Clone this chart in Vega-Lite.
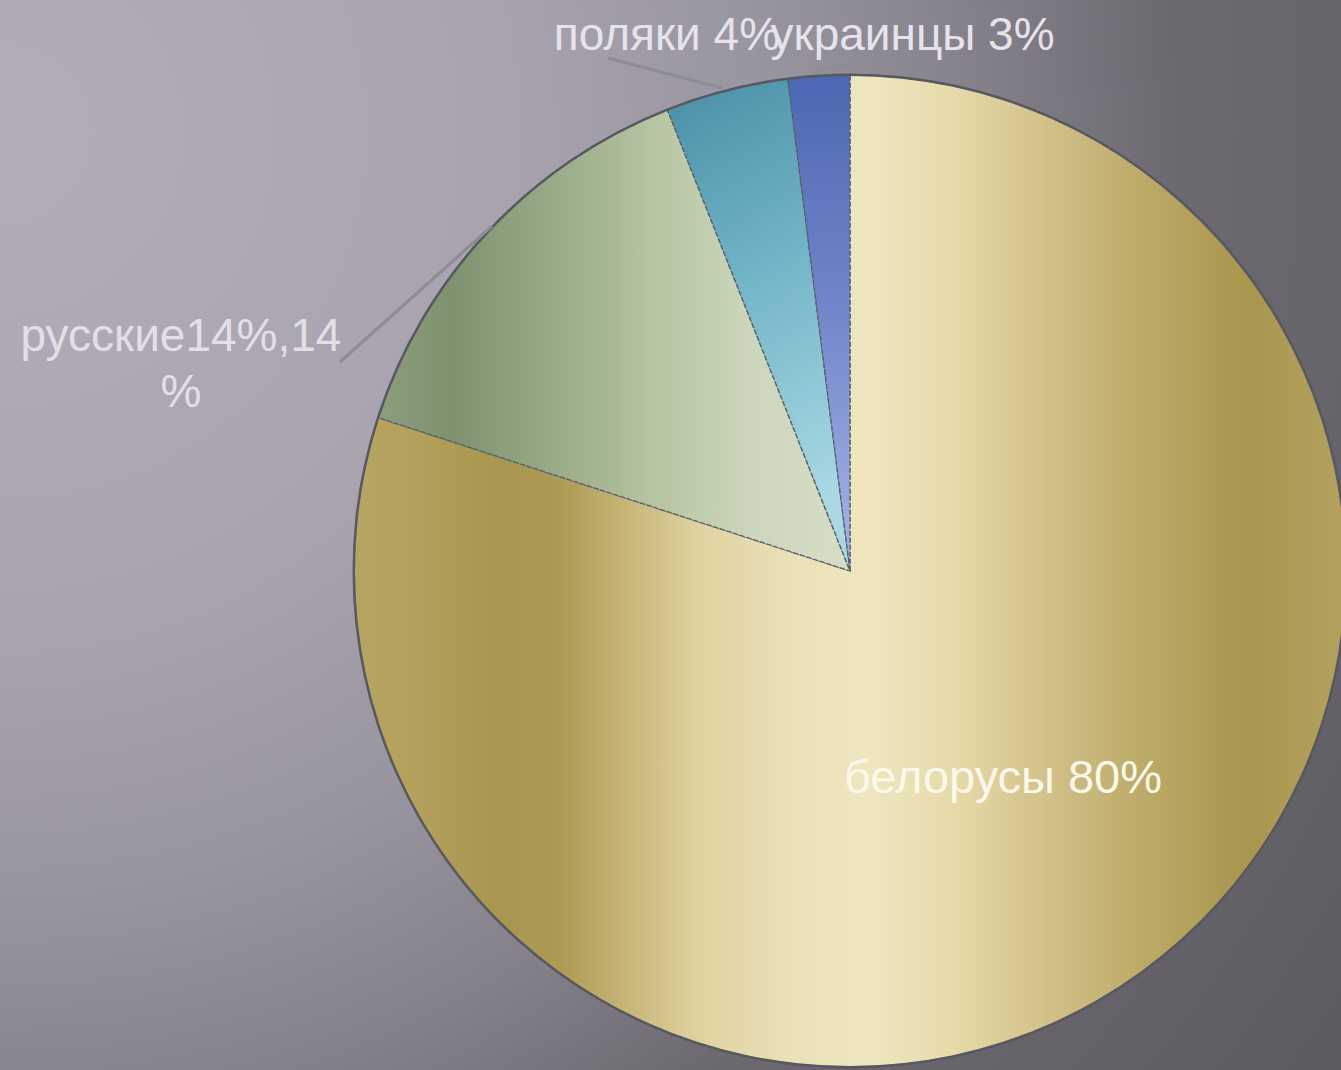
{
  "$schema": "https://vega.github.io/schema/vega-lite/v6.json",
  "width": 1341,
  "height": 1070,
  "padding": 0,
  "autosize": {"type": "none"},
  "background": "#6a676f",
  "view": {
    "stroke": null,
    "fill": {
      "gradient": "radial",
      "x1": 0, "y1": 0.2, "r1": 0,
      "x2": 0, "y2": 0.2, "r2": 1.25,
      "stops": [
        {"offset": 0, "color": "#b3aeba"},
        {"offset": 0.3, "color": "#a8a3af"},
        {"offset": 0.45, "color": "#9a96a1"},
        {"offset": 0.58, "color": "#85828b"},
        {"offset": 0.7, "color": "#6c6971"},
        {"offset": 0.85, "color": "#646168"},
        {"offset": 1, "color": "#5b5860"}
      ]
    }
  },
  "data": {
    "values": [
      {"group": "белорусы", "pct": 80, "order": 1, "label": "белорусы 80%"},
      {"group": "русские", "pct": 14, "order": 2, "label": "русские14%,14\n%"},
      {"group": "поляки", "pct": 4, "order": 3, "label": "поляки 4%"},
      {"group": "украинцы", "pct": 2, "order": 4, "label": "украинцы 3%"}
    ]
  },
  "transform": [
    {"stack": "pct", "groupby": [], "sort": [{"field": "order", "order": "ascending"}], "as": ["s0", "s1"]}
  ],
  "layer": [
    {
      "transform": [{"filter": "datum.group === 'белорусы'"}],
      "mark": {
        "type": "arc", "outerRadius": 496, "stroke": "#5a5d66", "strokeWidth": 1.3, "strokeDash": [5, 2],
        "fill": {
          "gradient": "linear", "x1": 0, "y1": 0, "x2": 1, "y2": 0,
          "stops": [
            {"offset": 0.006, "color": "#b6a462"},
            {"offset": 0.067, "color": "#b3a05c"},
            {"offset": 0.147, "color": "#a8954e"},
            {"offset": 0.208, "color": "#ad9a55"},
            {"offset": 0.268, "color": "#c4b374"},
            {"offset": 0.349, "color": "#e0d3a1"},
            {"offset": 0.45, "color": "#ece2b9"},
            {"offset": 0.52, "color": "#efe6c0"},
            {"offset": 0.6, "color": "#e7dbab"},
            {"offset": 0.7, "color": "#d1c189"},
            {"offset": 0.8, "color": "#bba966"},
            {"offset": 0.9, "color": "#a8964f"},
            {"offset": 0.99, "color": "#b2a15e"}
          ]
        }
      },
      "encoding": {
        "theta": {"field": "s0", "type": "quantitative", "scale": {"domain": [0, 100]}},
        "theta2": {"field": "s1"},
        "x": {"value": 850},
        "y": {"value": 571}
      }
    },
    {
      "transform": [{"filter": "datum.group === 'русские'"}],
      "mark": {
        "type": "arc", "outerRadius": 496, "stroke": "#5a5d66", "strokeWidth": 1.3, "strokeDash": [5, 2],
        "fill": {
          "gradient": "linear", "x1": 0, "y1": 0, "x2": 1, "y2": 0,
          "stops": [
            {"offset": 0.0, "color": "#8d9d7d"},
            {"offset": 0.15, "color": "#7f9270"},
            {"offset": 0.36, "color": "#97a986"},
            {"offset": 0.58, "color": "#b5c4a3"},
            {"offset": 0.79, "color": "#ccd6bc"},
            {"offset": 1, "color": "#d6dec7"}
          ]
        }
      },
      "encoding": {
        "theta": {"field": "s0", "type": "quantitative", "scale": {"domain": [0, 100]}},
        "theta2": {"field": "s1"},
        "x": {"value": 850},
        "y": {"value": 571}
      }
    },
    {
      "transform": [{"filter": "datum.group === 'поляки'"}],
      "mark": {
        "type": "arc", "outerRadius": 496, "stroke": "#5a5d66", "strokeWidth": 1.3, "strokeDash": [5, 2],
        "fill": {
          "gradient": "linear", "x1": 0, "y1": 0, "x2": 0.2, "y2": 1,
          "stops": [
            {"offset": 0, "color": "#4a8ea6"},
            {"offset": 0.45, "color": "#70b3c6"},
            {"offset": 1, "color": "#aad9e4"}
          ]
        }
      },
      "encoding": {
        "theta": {"field": "s0", "type": "quantitative", "scale": {"domain": [0, 100]}},
        "theta2": {"field": "s1"},
        "x": {"value": 850},
        "y": {"value": 571}
      }
    },
    {
      "transform": [{"filter": "datum.group === 'украинцы'"}],
      "mark": {
        "type": "arc", "outerRadius": 496, "stroke": "#5a5d66", "strokeWidth": 1.3, "strokeDash": [5, 2],
        "fill": {
          "gradient": "linear", "x1": 0, "y1": 0, "x2": 0, "y2": 1,
          "stops": [
            {"offset": 0, "color": "#4c68b2"},
            {"offset": 0.5, "color": "#7488cc"},
            {"offset": 1, "color": "#a9b5ea"}
          ]
        }
      },
      "encoding": {
        "theta": {"field": "s0", "type": "quantitative", "scale": {"domain": [0, 100]}},
        "theta2": {"field": "s1"},
        "x": {"value": 850},
        "y": {"value": 571}
      }
    },
    {
      "mark": {"type": "arc", "innerRadius": 495, "outerRadius": 497.5, "fill": "#575860"},
      "encoding": {
        "theta": {"field": "s0", "type": "quantitative", "scale": {"domain": [0, 100]}},
        "theta2": {"field": "s1"},
        "x": {"value": 850},
        "y": {"value": 571}
      }
    },
    {
      "mark": {"type": "rule", "stroke": "#8e8c94", "strokeWidth": 2.5},
      "encoding": {"x": {"value": 340}, "y": {"value": 362}, "x2": {"value": 492}, "y2": {"value": 226}}
    },
    {
      "mark": {"type": "rule", "stroke": "#8e8c94", "strokeWidth": 2.5},
      "encoding": {"x": {"value": 608}, "y": {"value": 58}, "x2": {"value": 722}, "y2": {"value": 88}}
    },
    {
      "mark": {"type": "rule", "stroke": "#8e8c94", "strokeWidth": 2.5},
      "encoding": {"x": {"value": 872}, "y": {"value": 57}, "x2": {"value": 813}, "y2": {"value": 73}}
    },
    {
      "transform": [{"filter": "datum.group === 'белорусы'"}],
      "mark": {"type": "text", "radius": 0, "dx": 153, "dy": 208, "font": "Liberation Sans", "fontSize": 47, "fill": "#fbf8ea", "align": "center", "baseline": "middle"},
      "encoding": {
        "theta": {"field": "s0", "type": "quantitative", "scale": {"domain": [0, 100]}},
        "x": {"value": 850},
        "y": {"value": 571},
        "text": {"field": "label"}
      }
    },
    {
      "transform": [{"filter": "datum.group === 'русские'"}],
      "mark": {"type": "text", "radius": 530, "dx": -165, "dy": -70, "font": "Liberation Sans", "fontSize": 46, "fill": "#e2e0e6", "align": "center", "baseline": "middle", "lineBreak": "\n", "lineHeight": 56},
      "encoding": {
        "theta": {"field": "s0", "type": "quantitative", "scale": {"domain": [0, 100]}},
        "x": {"value": 850},
        "y": {"value": 571},
        "text": {"field": "label"}
      }
    },
    {
      "transform": [{"filter": "datum.group === 'поляки'"}],
      "mark": {"type": "text", "radius": 530, "dx": 12, "dy": -42, "font": "Liberation Sans", "fontSize": 46, "fill": "#e6e4ea", "align": "center", "baseline": "middle"},
      "encoding": {
        "theta": {"field": "s0", "type": "quantitative", "scale": {"domain": [0, 100]}},
        "x": {"value": 850},
        "y": {"value": 571},
        "text": {"field": "label"}
      }
    },
    {
      "transform": [{"filter": "datum.group === 'украинцы'"}],
      "mark": {"type": "text", "radius": 530, "dx": 129, "dy": -9, "font": "Liberation Sans", "fontSize": 46, "fill": "#e6e4ea", "align": "center", "baseline": "middle"},
      "encoding": {
        "theta": {"field": "s0", "type": "quantitative", "scale": {"domain": [0, 100]}},
        "x": {"value": 850},
        "y": {"value": 571},
        "text": {"field": "label"}
      }
    }
  ]
}
